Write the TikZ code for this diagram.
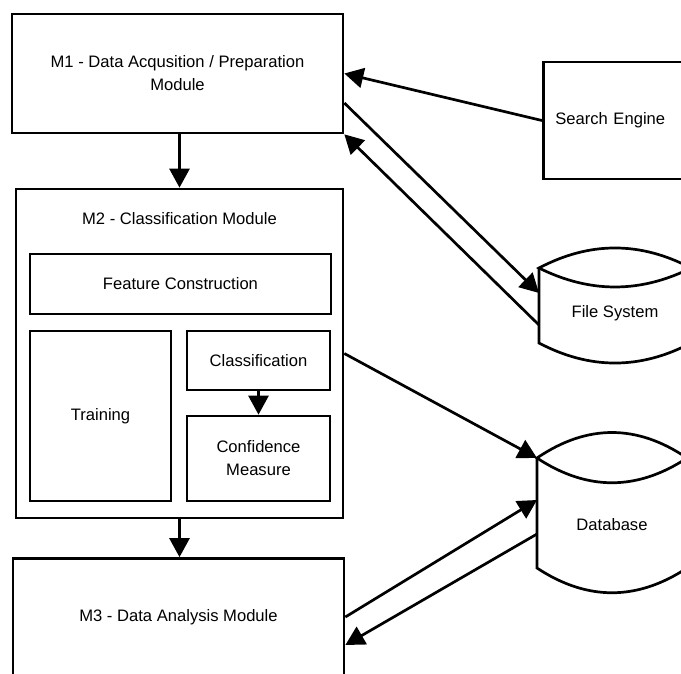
\documentclass[tikz,border=0pt]{standalone}
\usepackage{fontspec}
\setmainfont{Liberation Sans}
\usetikzlibrary{arrows.meta,calc}
\begin{document}
\begin{tikzpicture}[x=1pt,y=-1pt,
  box/.style={draw,line width=2.7pt,rectangle,inner sep=0pt,align=center,font=\fontsize{16.6}{23}\selectfont},
  conn/.style={line width=2.7pt,-{Triangle[length=19pt,width=20pt]}},
  lbl/.style={font=\fontsize{16.6}{23}\selectfont,align=center,inner sep=0pt},
  cyl/.style={line width=2.7pt},
  cylnode/.style={inner sep=0pt,outer sep=0pt}]
\useasboundingbox (0,0) rectangle (681,673);
\clip (0,0) rectangle (681,673);

\node[box, minimum width=331pt, minimum height=119pt] (m1) at (177.5,73.5) {M1 - Data Acqusition / Preparation\\Module};
\node[box, minimum width=327pt, minimum height=329pt,
      label={[lbl,anchor=center,yshift=-31pt]north:M2 - Classification Module}] (m2) at (179.5,353.5) {};
\node[box, minimum width=301pt, minimum height=60pt] (fc) at (180.5,284) {Feature Construction};
\node[box, minimum width=141pt, minimum height=170pt] (tr) at (100.5,416) {Training};
\node[box, minimum width=143pt, minimum height=59pt] (cl) at (258.5,360.5) {Classification};
\node[box, minimum width=143pt, minimum height=85pt] (cm) at (258.5,458.5) {Confidence\\Measure};
\node[box, minimum width=331pt, minimum height=117pt] (m3) at (178.5,617) {M3 - Data Analysis Module};
\node[box, anchor=west, minimum height=117pt, text width=130pt, inner xsep=12pt, align=left] (se) at (542,120.5) {Search Engine};

% File System cylinder
\node[cylnode, minimum width=152pt, minimum height=75pt,
      label={[lbl,anchor=center,yshift=-7.5pt]center:File System}] (fs) at (615,305.5) {};
\draw[cyl] (fs.north west) .. controls ($(fs.north)+(-25.3,-26.7)$) and ($(fs.north)+(25.3,-26.7)$) .. (fs.north east)
                           .. controls ($(fs.north)+(25.3,25.3)$) and ($(fs.north)+(-25.3,25.3)$) .. cycle;
\draw[cyl] (fs.north west) -- (fs.south west) .. controls ($(fs.south)+(-25.3,26.7)$) and ($(fs.south)+(25.3,26.7)$) .. (fs.south east) -- (fs.north east);

% Database cylinder
\node[cylnode, minimum width=150pt, minimum height=110pt,
      label={[lbl,anchor=center,yshift=-12pt]center:Database}] (db) at (612,513) {};
\draw[cyl] (db.north west) .. controls ($(db.north)+(-25,-34)$) and ($(db.north)+(25,-34)$) .. (db.north east)
                           .. controls ($(db.north)+(25,33)$) and ($(db.north)+(-25,33)$) .. cycle;
\draw[cyl] (db.north west) -- (db.south west) .. controls ($(db.south)+(-25,33)$) and ($(db.south)+(25,33)$) .. (db.south east) -- (db.north east);

% connectors
\draw[conn] (m1.south -| m2.north) -- (m2.north);
\draw[conn] (m2.south) -- (m2.south |- m3.north);
\draw[conn] (cl.south) -- (cm.north);
\draw[conn] (se.west) -- (m1.east);
\draw[conn] ([yshift=-29.5pt]m1.east) -- ([yshift=12.5pt]fs.west);
\draw[conn] ([yshift=-19.5pt]fs.west) -- (m1.south east);
\draw[conn] (m2.east) -- (db.north west);
\draw[conn] (m3.east) -- ([yshift=13pt]db.west);
\draw[conn] ([yshift=-21pt]db.west) -- ([yshift=-28pt]m3.east);
\end{tikzpicture}
\end{document}
